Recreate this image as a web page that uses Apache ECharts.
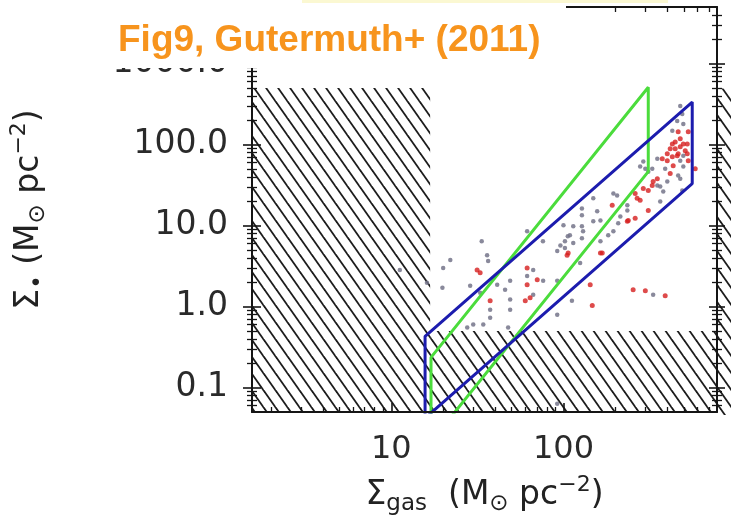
<!DOCTYPE html>
<html>
<head>
<meta charset="utf-8">
<script src="https://cdn.jsdelivr.net/npm/echarts@6/dist/echarts.min.js"></script>
<style>
  html, body { margin: 0; padding: 0; background: #ffffff; }
  #chart { width: 731px; height: 521px; }
</style>
</head>
<body>
<div id="chart"></div>
<script>
// Axis ranges, surface densities in M_sun pc^-2
const xRange = [1.55, 780];
const yRange = [0.05, 5000];

// Tick values and their labels
const xMajorTicks = [10, 100];
const xTickLabels = ['10', '100'];
const xMinorTicks = [2, 3, 4, 5, 6, 7, 8, 9, 20, 30, 40, 50, 60, 70, 80, 90, 200, 300, 400, 500, 600, 700];
const yMajorTicks = [0.1, 1, 10, 100, 1000];
const yTickLabels = ['0.1', '1.0', '10.0', '100.0', '1000.0'];
const yMinorTicks = [0.06, 0.07, 0.08, 0.09,
  0.2, 0.3, 0.4, 0.5, 0.6, 0.7, 0.8, 0.9,
  2, 3, 4, 5, 6, 7, 8, 9,
  20, 30, 40, 50, 60, 70, 80, 90,
  200, 300, 400, 500, 600, 700, 800, 900,
  2000, 3000, 4000];

// Incompleteness limits shaded with hatching: [gasFrom, gasTo, starFrom, starTo]
const gasLimit = 16.8;
const starLimit = 0.5;
const hatchTop = 500;
const hatchRegions = [
  [xRange[0], gasLimit, yRange[0], hatchTop],
  [gasLimit, xRange[1], yRange[0], starLimit]
];
// The adjoining panel starts at the right-hand axis
const nextPanelHatch = [[xRange[0], gasLimit, yRange[0], hatchTop]];

// Power-law bands (gas, stars), closed outlines
const greenBand = [[17, 0.0215], [17, 0.236], [311, 510], [311, 46.4], [17, 0.0215]];
const blueBand = [[15.7, 0.042], [15.7, 0.43], [560, 335], [560, 33], [15.7, 0.042]];

// Cloud measurements (gas, stars)
const greyPoints = [
  [477, 300], [490, 239], [458, 196], [497, 180], [429, 148], [497, 73], [477, 63], [351, 67],
  [291, 62], [497, 53.5], [390, 50.5], [328, 50.5], [279, 53.5], [311, 46.4], [464, 41.5],
  [401, 35], [477, 38], [365, 30.4], [490, 27.2], [205, 23.6],
  [149, 21.7], [195, 24.9], [235, 15.4], [214, 13.0], [208, 10.7], [164, 11.6], [157, 15.0],
  [128, 16.3], [128, 13.4], [128, 9.8], [114, 9.8], [100, 10.1], [109, 7.6], [128, 7.0],
  [114, 6.1], [106, 7.4], [182, 7.6], [164, 6.4], [96, 5.7], [102, 5.3], [61.5, 8.5],
  [365, 19.9], [380, 26.4], [195, 8.5], [76, 6.4], [33.5, 6.4], [92, 4.85], [149, 11.3],
  [130, 8.5], [102, 6.4], [235, 17.8], [351, 31.3], [299, 50.5],
  [11.2, 2.84], [22, 3.76], [20, 3.0], [36, 4.3], [36.5, 3.66], [16.1, 1.97], [19.8, 1.71],
  [28.7, 1.81], [66.7, 2.84], [61.5, 2.39], [49, 2.08], [41.2, 1.86], [76.2, 2.08], [92, 2.08],
  [125, 3.46], [32.8, 1.48], [45.8, 1.61], [49, 1.22], [66.7, 1.40], [37.5, 0.917], [49, 0.917],
  [37.5, 0.731], [34.2, 0.60], [29.9, 0.60], [27.6, 0.551], [47.7, 0.551], [112, 1.18],
  [92, 0.796], [332, 1.40], [92, 0.063]
];
const redPoints = [
  [464, 144], [531, 144], [477, 118], [446, 108], [524, 102], [477, 94], [417, 89], [510, 84],
  [401, 77], [458, 73], [429, 71], [375, 67], [401, 63], [531, 63], [434, 55], [417, 44],
  [351, 38], [328, 31.3], [291, 28.7], [261, 24.9], [583, 50.5], [446, 89], [497, 102],
  [429, 102], [464, 77], [524, 77],
  [192, 17.8], [268, 21.7], [261, 12.3], [238, 11.6], [106.5, 4.6], [164, 4.6], [332, 35],
  [311, 27.2], [279, 20.5], [311, 15.4], [235, 11.3], [105, 4.3],
  [31.5, 2.84], [32.8, 2.61], [61.5, 3.0], [70.4, 2.14], [61.5, 1.86], [168, 4.6], [143, 1.86],
  [37.5, 1.18], [60, 1.18], [64, 1.29], [147, 1.03], [254, 1.61], [299, 1.57], [390, 1.36]
];

// ---------------------------------------------------------------------------
const FONT = 'DejaVu Sans';
const INK = '#151515';

function nearestLabel(ticks, labels, v) {
  let best = 0, bestD = Infinity;
  ticks.forEach((t, i) => {
    const d = Math.abs(Math.log10(t) - Math.log10(v));
    if (d < bestD) { bestD = d; best = i; }
  });
  return labels[best];
}

// Diagonal line hatching tile
function makeHatchTile() {
  const w = 12, h = 17;
  const c = document.createElement('canvas');
  c.width = w; c.height = h;
  const ctx = c.getContext('2d');
  ctx.strokeStyle = '#1c1c1c';
  ctx.lineWidth = 1.8;
  [-w, 0, w].forEach(dx => {
    ctx.beginPath();
    ctx.moveTo(dx - w, -h);
    ctx.lineTo(dx + 2 * w, 2 * h);
    ctx.stroke();
  });
  return c;
}
const hatchFill = { image: makeHatchTile(), repeat: 'repeat' };

const richName = {
  m: { fontFamily: FONT, fontSize: 33, color: '#222', lineHeight: 42 },
  sub: { fontFamily: FONT, fontSize: 23, color: '#222', lineHeight: 21, verticalAlign: 'bottom' },
  sup: { fontFamily: FONT, fontSize: 22, color: '#222', lineHeight: 21, verticalAlign: 'top' }
};

function logAxis(extra) {
  return Object.assign({
    type: 'log',
    logBase: 10,
    z: 6,
    splitLine: { show: false },
    axisLine: { show: false },
    axisLabel: { show: false },
    axisTick: { show: true }
  }, extra);
}
function line(show) {
  return { show: show, onZero: false, lineStyle: { color: INK, width: 2 } };
}
function ticks(values, inside, len, width) {
  return { show: true, inside: inside, length: len, customValues: values,
           lineStyle: { color: INK, width: width } };
}

const xAxes = [
  logAxis({
    gridIndex: 0, position: 'bottom', min: xRange[0], max: xRange[1],
    axisLine: line(true),
    axisTick: ticks(xMajorTicks, true, 9, 1.6),
    axisLabel: {
      show: true, customValues: xMajorTicks, margin: 22,
      fontFamily: FONT, fontSize: 32, color: '#2a2a2a',
      formatter: v => nearestLabel(xMajorTicks, xTickLabels, v)
    },
    name: '{m|Σ}{sub|gas}{m|  (M}{sub|⊙}{m| pc}{sup|−2}{m|)}',
    nameLocation: 'middle', nameGap: 62,
    nameTextStyle: { rich: richName }
  }),
  logAxis({ gridIndex: 0, position: 'bottom', min: xRange[0], max: xRange[1],
            axisTick: ticks(xMinorTicks, true, 5, 1.3) }),
  logAxis({ gridIndex: 0, position: 'top', min: xRange[0], max: xRange[1],
            axisLine: line(true), axisTick: ticks(xMajorTicks, true, 9, 1.6) }),
  logAxis({ gridIndex: 0, position: 'top', min: xRange[0], max: xRange[1],
            axisTick: ticks(xMinorTicks, true, 5, 1.3) }),
  logAxis({ gridIndex: 1, show: false, min: xRange[0], max: xRange[1] })
];

const yAxes = [
  logAxis({
    gridIndex: 0, position: 'left', min: yRange[0], max: yRange[1],
    axisLine: line(true),
    axisTick: ticks(yMajorTicks, true, 9, 1.6),
    axisLabel: {
      show: true, customValues: yMajorTicks, margin: 24,
      fontFamily: FONT, fontSize: 33, color: '#2a2a2a',
      padding: [11, 0, 0, 0],
      formatter: v => nearestLabel(yMajorTicks, yTickLabels, v)
    },
    name: '{m|Σ}{sub|•}{m| (M}{sub|⊙}{m| pc}{sup|−2}{m|)}',
    nameLocation: 'middle', nameGap: 202, nameRotate: 90,
    nameTextStyle: { rich: richName }
  }),
  logAxis({ gridIndex: 0, position: 'left', min: yRange[0], max: yRange[1],
            axisTick: ticks(yMinorTicks, true, 5, 1.3) }),
  logAxis({ gridIndex: 0, position: 'left', min: yRange[0], max: yRange[1],
            axisTick: ticks(yMajorTicks, false, 9, 1.6) }),
  logAxis({ gridIndex: 0, position: 'left', min: yRange[0], max: yRange[1],
            axisTick: ticks(yMinorTicks, false, 5, 1.3) }),
  logAxis({ gridIndex: 0, position: 'right', min: yRange[0], max: yRange[1],
            axisLine: line(true), axisTick: ticks(yMajorTicks, true, 8, 1.6) }),
  logAxis({ gridIndex: 0, position: 'right', min: yRange[0], max: yRange[1],
            axisTick: ticks(yMinorTicks, true, 5, 1.3) }),
  logAxis({ gridIndex: 0, position: 'right', min: yRange[0], max: yRange[1],
            axisTick: ticks(yMajorTicks, false, 8, 1.6) }),
  logAxis({ gridIndex: 0, position: 'right', min: yRange[0], max: yRange[1],
            axisTick: ticks(yMinorTicks, false, 5, 1.3) }),
  logAxis({ gridIndex: 1, show: false, min: yRange[0], max: yRange[1] })
];

function hatchSeries(data, xi, yi) {
  return {
    type: 'custom',
    xAxisIndex: xi, yAxisIndex: yi,
    z: 1,
    silent: true,
    encode: { x: [0, 1], y: [2, 3] },
    data: data,
    renderItem: function (params, api) {
      const a = api.coord([api.value(0), api.value(3)]);
      const b = api.coord([api.value(1), api.value(2)]);
      return {
        type: 'rect',
        shape: { x: a[0], y: a[1], width: b[0] - a[0], height: b[1] - a[1] },
        style: { fill: hatchFill }
      };
    }
  };
}

const chart = echarts.init(document.getElementById('chart'), null, { renderer: 'canvas' });
chart.setOption({
  animation: false,
  backgroundColor: '#ffffff',
  title: {
    text: 'Fig9, Gutermuth+ (2011)',
    left: 118, top: 22, padding: 0, z: 60,
    textStyle: { color: '#f7941d', fontSize: 37, fontWeight: 'bold', fontFamily: 'Liberation Sans' }
  },
  graphic: [
    { type: 'rect', left: 100, top: 0, z: 50, shape: { width: 466, height: 68 }, style: { fill: '#ffffff' } },
    { type: 'rect', left: 302, top: 0, z: 51, shape: { width: 366, height: 3 }, style: { fill: '#fbf8d2' } }
  ],
  grid: [
    { left: 252, right: 14, top: 7, bottom: 106 },
    { left: 717, width: 300, top: 7, bottom: 106 }
  ],
  xAxis: xAxes,
  yAxis: yAxes,
  series: [
    hatchSeries(hatchRegions, 0, 0),
    hatchSeries(nextPanelHatch, 4, 8),
    {
      type: 'scatter', xAxisIndex: 0, yAxisIndex: 0, z: 3, silent: true,
      symbol: 'circle', symbolSize: 4.5,
      itemStyle: { color: '#74748a', opacity: 0.85 },
      data: greyPoints
    },
    {
      type: 'scatter', xAxisIndex: 0, yAxisIndex: 0, z: 3, silent: true,
      symbol: 'circle', symbolSize: 5,
      itemStyle: { color: '#d61e1e' },
      data: redPoints
    },
    {
      type: 'line', xAxisIndex: 0, yAxisIndex: 0, z: 4, silent: true,
      symbol: 'none', clip: true,
      lineStyle: { color: '#4bdc3c', width: 3 },
      data: greenBand
    },
    {
      type: 'line', xAxisIndex: 0, yAxisIndex: 0, z: 4, silent: true,
      symbol: 'none', clip: true,
      lineStyle: { color: '#1c1cae', width: 3 },
      data: blueBand
    }
  ]
});
</script>
</body>
</html>
